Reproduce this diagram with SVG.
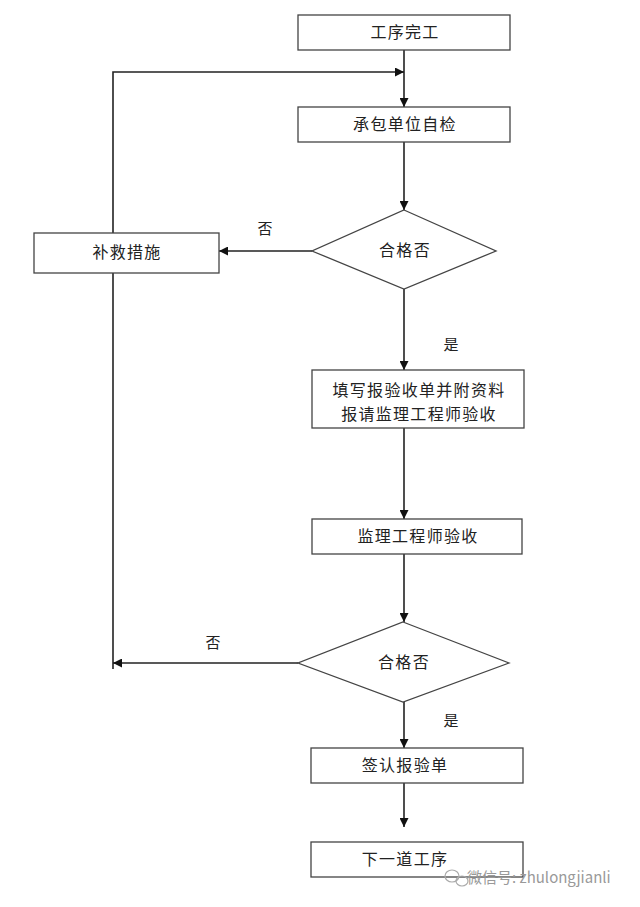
<svg xmlns="http://www.w3.org/2000/svg" width="640" height="907" viewBox="0 0 640 907">
<style>
.box{fill:#fff;stroke:#444;stroke-width:1.3}
.ln{fill:none;stroke:#222;stroke-width:1.6}
.t{font-family:"Noto Sans CJK SC","Liberation Sans",sans-serif;font-size:16px;fill:#222;text-anchor:middle;letter-spacing:1.3px}
.lb{font-family:"Noto Sans CJK SC","Liberation Sans",sans-serif;font-size:15px;fill:#222;text-anchor:middle}
.wm{font-family:"Noto Sans CJK SC","Liberation Sans",sans-serif;font-size:15px;fill:#999}
</style>
<defs>
<marker id="ah" viewBox="0 0 10 10" refX="10" refY="5" markerWidth="9" markerHeight="9" markerUnits="userSpaceOnUse" orient="auto">
<path d="M0,0 L10,5 L0,10 z" fill="#111"/>
</marker>
</defs>
<rect width="640" height="907" fill="#fff"/>
<g id="connectors">
<line class="ln" x1="404" y1="50" x2="404" y2="107" marker-end="url(#ah)"/>
<polyline class="ln" points="113,233 113,72 404,72" marker-end="url(#ah)"/>
<line class="ln" x1="404" y1="142" x2="404" y2="210" marker-end="url(#ah)"/>
<line class="ln" x1="312" y1="251" x2="219" y2="251" marker-end="url(#ah)"/>
<line class="ln" x1="404" y1="289" x2="404" y2="370" marker-end="url(#ah)"/>
<line class="ln" x1="404" y1="428" x2="404" y2="519" marker-end="url(#ah)"/>
<line class="ln" x1="404" y1="554" x2="404" y2="622" marker-end="url(#ah)"/>
<line class="ln" x1="113" y1="273" x2="113" y2="669"/>
<line class="ln" x1="298" y1="663" x2="113" y2="663" marker-end="url(#ah)"/>
<line class="ln" x1="404" y1="702" x2="404" y2="748" marker-end="url(#ah)"/>
<line class="ln" x1="404" y1="783" x2="404" y2="827" marker-end="url(#ah)"/>
<text class="lb" x="265" y="234">否</text>
<text class="lb" x="451" y="350">是</text>
<text class="lb" x="213" y="648">否</text>
<text class="lb" x="451" y="726">是</text>
</g>
<g id="n1"><rect class="box" x="298" y="15" width="212" height="35"/><text class="t" x="405" y="38">工序完工</text></g>
<g id="n2"><rect class="box" x="298" y="107" width="212" height="35"/><text class="t" x="405" y="130">承包单位自检</text></g>
<g id="n3"><polygon class="box" points="404,210 496,251 404,289 312,251"/><text class="t" x="405" y="256">合格否</text></g>
<g id="n4"><rect class="box" x="34" y="233" width="185" height="40"/><text class="t" x="127" y="258">补救措施</text></g>
<g id="n5"><rect class="box" x="312" y="370" width="212" height="58"/><text class="t" x="419" y="396">填写报验收单并附资料</text><text class="t" x="419" y="420">报请监理工程师验收</text></g>
<g id="n6"><rect class="box" x="312" y="519" width="210" height="35"/><text class="t" x="418" y="542">监理工程师验收</text></g>
<g id="n7"><polygon class="box" points="403,622 509,663 403,702 298,663"/><text class="t" x="404" y="668">合格否</text></g>
<g id="n8"><rect class="box" x="311" y="748" width="212" height="35"/><text class="t" x="405" y="771">签认报验单</text></g>
<g id="n9"><rect class="box" x="311" y="842" width="212" height="35"/><text class="t" x="405" y="865">下一道工序</text></g>
<g id="watermark">
<ellipse cx="452" cy="876" rx="7" ry="6" fill="none" stroke="#aaa" stroke-width="1.2"/>
<ellipse cx="462" cy="881" rx="6" ry="5" fill="none" stroke="#aaa" stroke-width="1.2"/>
<text class="wm" x="467" y="883">微信号: zhulongjianli</text>
</g>
</svg>
